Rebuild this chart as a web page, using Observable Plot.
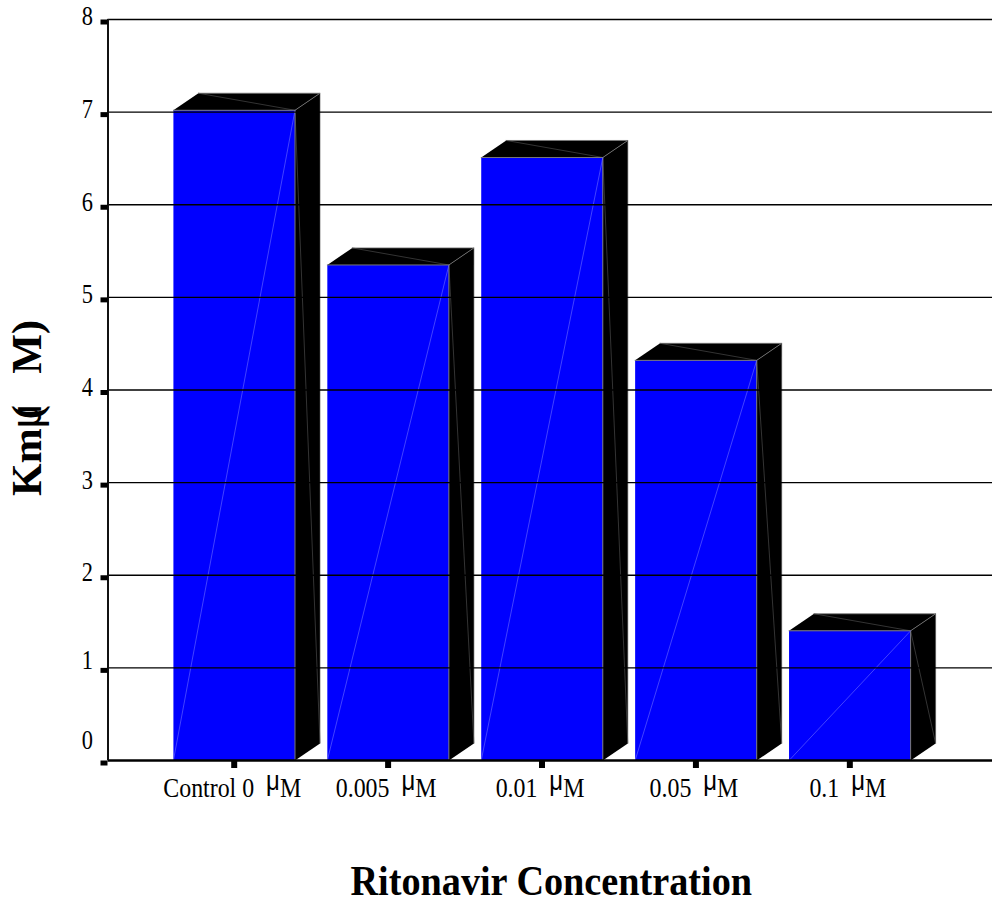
<!DOCTYPE html>
<html><head><meta charset="utf-8">
<style>html,body{margin:0;padding:0;background:#fff}svg{display:block}</style>
<script src="https://cdn.jsdelivr.net/npm/d3@7"></script>
<script src="https://cdn.jsdelivr.net/npm/@observablehq/plot@0.6"></script>
</head><body><div id="c"></div>
<script>
const categories = ["Control 0 μM","0.005 μM","0.01 μM","0.05 μM","0.1 μM"];
const kmValues = [7.02,5.35,6.51,4.32,1.40];
const yTicks = [0,1,2,3,4,5,6,7,8];
const HW = 0.395, DX = 0.1625, DY = 0.184;
const F = "'Liberation Serif','Times New Roman',serif";
const idx = categories.map((_, i) => i);

const poly = (id, pts) => pts.map(([x,y]) => ({id,x,y}));
const sides = idx.flatMap(i => { const v = kmValues[i], r = i+HW; return poly("s"+i, [[r,0],[r+DX,DY],[r+DX,v+DY],[r,v]]); });
const tops = idx.flatMap(i => { const v = kmValues[i], l = i-HW, r = i+HW; return poly("t"+i, [[l,v],[l+DX,v+DY],[r+DX,v+DY],[r,v]]); });
const fronts = idx.flatMap(i => { const v = kmValues[i], l = i-HW, r = i+HW; return poly("f"+i, [[l,0],[r,0],[r,v],[l,v]]); });
const outerEdges = idx.flatMap(i => { const v = kmValues[i], l = i-HW, r = i+HW; return poly("e"+i, [[l+DX,v+DY],[r+DX,v+DY],[r,v]]); });
const innerEdges = idx.flatMap(i => { const v = kmValues[i], l = i-HW, r = i+HW; return poly("g"+i, [[l+DX,v+DY],[r,v],[r+DX,DY],[r+DX,v+DY]]); });
const faint = idx.flatMap(i => { const v = kmValues[i], l = i-HW, r = i+HW; return poly("d"+i, [[l,0],[r,v]]); });

const yAxisText = (ticks, dy) => Plot.axisY({ticks, tickSize:0, tickPadding:15, fontSize:28, fill:"#000", dy, tickFormat:d => String(d), label:null});

const plot = Plot.plot({
  width: 992, height: 904,
  marginLeft: 107.5, marginRight: 0, marginTop: 19, marginBottom: 144,
  x: {domain: [-0.82, 4.927], axis: null},
  y: {domain: [0, 8], axis: null},
  style: {fontFamily: F, background: "#fff", color: "#000"},
  marks: [
    Plot.line(sides, {x:"x", y:"y", z:"id", fill:"#000", stroke:"none"}),
    Plot.line(tops, {x:"x", y:"y", z:"id", fill:"#000", stroke:"none"}),
    Plot.line(outerEdges, {x:"x", y:"y", z:"id", stroke:"#777", strokeWidth:0.8}),
    Plot.line(innerEdges, {x:"x", y:"y", z:"id", stroke:"#555", strokeWidth:0.6}),
    Plot.line(fronts, {x:"x", y:"y", z:"id", fill:"#0000ff", stroke:"#777", strokeWidth:1}),
    Plot.line(faint, {x:"x", y:"y", z:"id", stroke:"#6f6fff", strokeWidth:0.6}),
    Plot.ruleY(yTicks.filter(d => d > 0), {stroke:"#000", strokeWidth:1.3}),
    Plot.ruleY([0], {stroke:"#000", strokeWidth:2.4}),
    Plot.ruleX([-0.82], {stroke:"#111", strokeWidth:2}),
    Plot.axisY({ticks: yTicks, tickSize:7, strokeWidth:5, stroke:"#000", dy:2.5, tickFormat:() => "", label:null}),
    yAxisText([2,3,4,5,6,7,8], -3),
    yAxisText([1], -8),
    yAxisText([0], -20),
    Plot.axisX({ticks: idx, tickSize:8, strokeWidth:6, stroke:"#000", tickFormat:() => "", label:null}),
    Plot.axisX({ticks: idx, tickSize:0, tickPadding:17, fontSize:27, fill:"#000", tickFormat:i => categories[i], label:null, dx:-2}),
    Plot.text(["Ritonavir Concentration"], {frameAnchor:"bottom", dy:134, dx:1, fontSize:42, fontWeight:"bold", fill:"#000", lineAnchor:"bottom", text:d => d}),
    Plot.text(["Kmμ(   M)"], {frameAnchor:"left", textAnchor:"middle", rotate:-90, dx:-80, dy:18, fontSize:42, fontWeight:"bold", fill:"#000", text:d => d})
  ]
});
document.getElementById("c").append(plot);
const squeeze = (t, sx) => t.attr("transform", (t.attr("transform") || "") + ` scale(${sx},1)`);
d3.select(plot).selectAll("text").each(function(){
  const t = d3.select(this), s = this.textContent;
  if (/μM$/.test(s)) {
    // raised micro sign in the tick labels, as in the reference
    t.text(s.replace(/ μM$/, "") + "  ");
    t.append("tspan").attr("font-family","'Liberation Sans',sans-serif").attr("dy",-7).text("μ");
    t.append("tspan").attr("dy",7).text("M");
    squeeze(t, 0.885);
  } else if (s === "Kmμ(   M)") {
    // parenthesis overlapping the micro sign in the y title
    t.text("Km");
    t.append("tspan").attr("font-family","'Liberation Sans',sans-serif").attr("font-weight","normal").text("μ");
    t.append("tspan").attr("dx",-15).text("(");
    t.append("tspan").text("   M)");
  } else if (s === "Ritonavir Concentration") {
    squeeze(t, 0.91);
  } else if (/^\d$/.test(s)) {
    squeeze(t, 0.8);
  }
});
</script></body></html>
